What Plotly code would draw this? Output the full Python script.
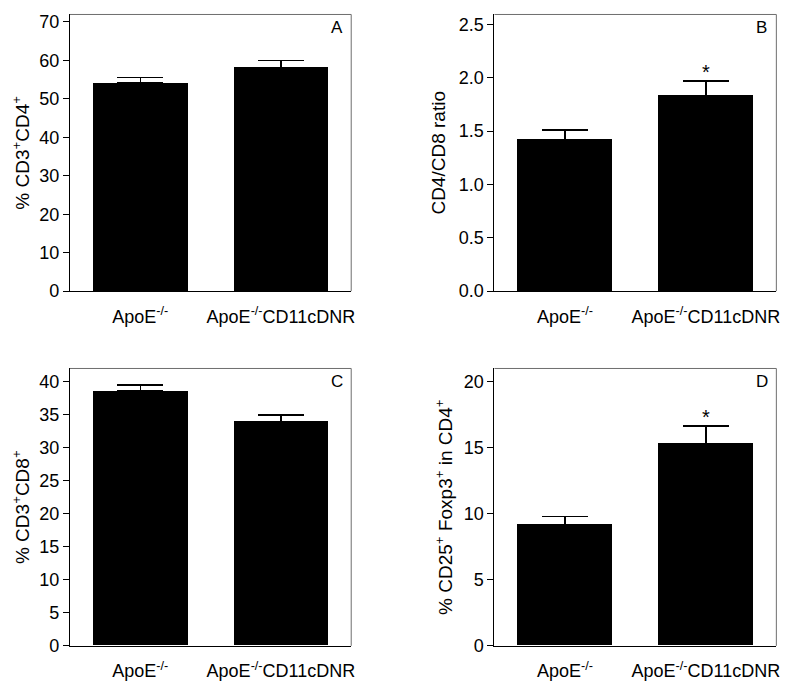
import plotly.graph_objects as go

# ---- data ----
categories = ["ApoE<sup>-/-</sup>", "ApoE<sup>-/-</sup>CD11cDNR"]
cd4_mean = [54.1, 58.1]
cd4_sem = [1.4, 1.9]
ratio_mean = [1.42, 1.83]
ratio_sem = [0.09, 0.14]
cd8_mean = [38.6, 34.0]
cd8_sem = [0.95, 1.0]
treg_mean = [9.2, 15.35]
treg_sem = [0.6, 1.3]

panel_letters = ["A", "B", "C", "D"]
y_titles = ["% CD3<sup>+</sup>CD4<sup>+</sup>", "CD4/CD8 ratio",
            "% CD3<sup>+</sup>CD8<sup>+</sup>", "% CD25<sup>+</sup> Foxp3<sup>+</sup> in CD4<sup>+</sup>"]
y_ranges = [[0, 71.9], [0, 2.592], [0, 42.04], [0, 21.02]]
y_dticks = [10, 0.5, 5, 5]
y_formats = ["d", ".1f", "d", "d"]
significant = [False, True, False, True]

means = [cd4_mean, ratio_mean, cd8_mean, treg_mean]
sems = [cd4_sem, ratio_sem, cd8_sem, treg_sem]

W, H = 792, 686
FONT = "Arial, Liberation Sans, sans-serif"

# pixel layout of the four panels (left, right, top, bottom)
boxes = [(70.3, 353.0, 12.7, 294.3), (497.0, 780.3, 12.7, 294.3),
         (70.3, 353.0, 373.0, 655.3), (497.0, 780.3, 373.0, 655.3)]
title_x = [21, 441, 21, 446]

fig = go.Figure()
shapes = []
annotations = []
xpos = list(range(len(categories)))

for i in range(4):
    n = "" if i == 0 else str(i + 1)
    l, r, t, b = boxes[i]
    fig.add_trace(go.Bar(
        x=xpos, y=means[i], width=0.672,
        marker=dict(color="black", line=dict(width=0)),
        error_y=dict(type="data", symmetric=False, array=sems[i],
                     arrayminus=[0] * len(sems[i]), color="black",
                     thickness=1.5, width=23),
        xaxis="x" + n, yaxis="y" + n, showlegend=False))
    fig.layout["xaxis" + n] = dict(
        domain=[l / W, r / W], range=[-0.5, 1.5], anchor="y" + n,
        tickvals=xpos, ticktext=categories, showgrid=False, zeroline=False,
        showline=True, linecolor="black", linewidth=1, ticks="",
        tickfont=dict(family=FONT, size=18, color="black"),
        ticklabelstandoff=9, fixedrange=True)
    fig.layout["yaxis" + n] = dict(
        domain=[1 - b / H, 1 - t / H], range=y_ranges[i], anchor="x" + n,
        dtick=y_dticks[i], tick0=0, tickformat=y_formats[i],
        showgrid=False, zeroline=False, showline=True, linecolor="black",
        linewidth=1, ticks="outside", ticklen=6, tickwidth=1, tickcolor="black",
        tickfont=dict(family=FONT, size=18, color="black"), fixedrange=True)
    # grey frame top and right
    shapes.append(dict(type="line", xref="x" + n + " domain", yref="y" + n + " domain",
                       x0=0, x1=1, y0=1, y1=1, line=dict(color="#6e6e6e", width=1)))
    shapes.append(dict(type="line", xref="x" + n + " domain", yref="y" + n + " domain",
                       x0=1, x1=1, y0=0, y1=1, line=dict(color="#6e6e6e", width=1)))
    annotations.append(dict(text=panel_letters[i], xref="x" + n + " domain",
                            yref="y" + n + " domain", x=0.948, y=0.952,
                            xanchor="center", yanchor="middle", showarrow=False,
                            font=dict(family=FONT, size=17, color="black")))
    annotations.append(dict(text=y_titles[i], xref="paper", yref="y" + n + " domain",
                            x=title_x[i] / W, y=0.5, textangle=-90,
                            xanchor="center", yanchor="middle", showarrow=False,
                            font=dict(family=FONT, size=19, color="black")))
    if significant[i]:
        annotations.append(dict(text="*", xref="x" + n, yref="y" + n,
                                x=1, y=means[i][1] + sems[i][1],
                                xanchor="center", yanchor="bottom", yshift=-4,
                                showarrow=False,
                                font=dict(family=FONT, size=20, color="black")))

fig.update_layout(
    width=W, height=H, margin=dict(l=0, r=0, t=0, b=0),
    paper_bgcolor="white", plot_bgcolor="white",
    shapes=shapes, annotations=annotations, bargap=0,
)

post = """
document.body.style.margin = '0';
document.body.style.padding = '0';
"""
fig.write_html("out.html", post_script=post, config={"displayModeBar": False})
